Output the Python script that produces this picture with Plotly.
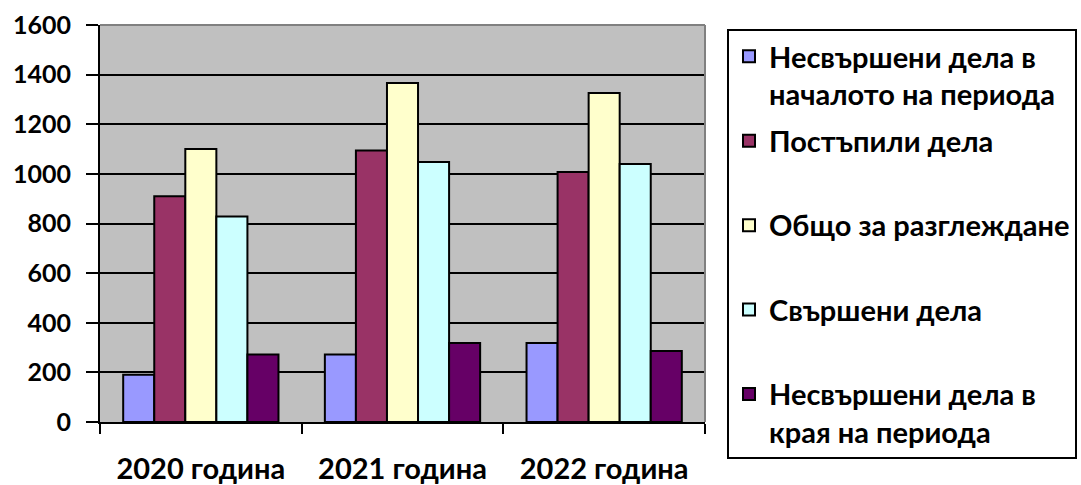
import plotly.graph_objects as go

categories = ["2020 година", "2021 година", "2022 година"]
series_names = [
    "Несвършени дела в<br>началото на периода",
    "Постъпили дела<br>\u00a0",
    "Общо за разглеждане<br>\u00a0",
    "Свършени дела<br>\u00a0",
    "Несвършени дела в<br>края на периода",
]
start_pending = [190, 272, 318]
incoming = [910, 1094, 1008]
total = [1100, 1366, 1326]
completed = [828, 1048, 1040]
end_pending = [272, 318, 286]
series_values = [start_pending, incoming, total, completed, end_pending]
colors = ["#9999FF", "#993366", "#FFFFCC", "#CCFFFF", "#660066"]
y_ticks = [0, 200, 400, 600, 800, 1000, 1200, 1400, 1600]

FONT = "Lato"

fig = go.Figure()
for i, (name, vals, col) in enumerate(zip(series_names, series_values, colors)):
    fig.add_trace(go.Bar(
        x=categories, y=vals, name=name, legendgroup=f"g{i}",
        marker=dict(color=col, line=dict(color="black", width=2)),
    ))

W, H = 1081, 485
L, R, T, B = 100, 705, 25, 422

fig.update_layout(
    width=W, height=H,
    margin=dict(l=L, r=W - R, t=T, b=H - B, pad=0, autoexpand=False),
    paper_bgcolor="white",
    plot_bgcolor="#C0C0C0",
    barmode="group",
    bargap=0.23,
    bargroupgap=0,
    font=dict(family=FONT, size=24, color="black"),
    legend=dict(
        x=(727 - L) / (R - L), xanchor="left",
        y=(B - 29) / (B - T), yanchor="top",
        bordercolor="black", borderwidth=2,
        bgcolor="white",
        font=dict(family=FONT, size=29, color="black", weight="bold"),
        valign="top",
        tracegroupgap=6,
        traceorder="grouped",
        maxheight=480,
    ),
    xaxis=dict(
        type="category",
        automargin=False,
        showline=True, linecolor="black", linewidth=2,
        ticks="outside", tickson="boundaries", ticklen=10,
        tickcolor="black", tickwidth=2,
        showgrid=False,
        tickfont=dict(family=FONT, size=29, color="black", weight="bold"),
        ticklabelstandoff=20,
        ticklabeloverflow="allow",
    ),
    yaxis=dict(
        range=[0, 1600],
        automargin=False,
        tickvals=y_ticks,
        showline=True, linecolor="black", linewidth=2,
        ticks="outside", ticklen=12, tickcolor="black", tickwidth=2,
        showgrid=True, gridcolor="black", gridwidth=1.5,
        zeroline=False,
        tickfont=dict(family=FONT, size=25, color="black", weight="bold"),
        ticklabelstandoff=10,
        ticklabeloverflow="allow",
    ),
    shapes=[
        dict(type="line", xref="paper", yref="paper", x0=0, x1=1, y0=1, y1=1,
             line=dict(color="#808080", width=2), layer="above"),
        dict(type="line", xref="paper", yref="paper", x0=1, x1=1, y0=0, y1=1,
             line=dict(color="#808080", width=2), layer="above"),
    ],
)

fig.write_html(
    "out.html",
    config={"displayModeBar": False},
    post_script="document.body.style.margin='0';document.body.style.overflow='hidden';",
)
